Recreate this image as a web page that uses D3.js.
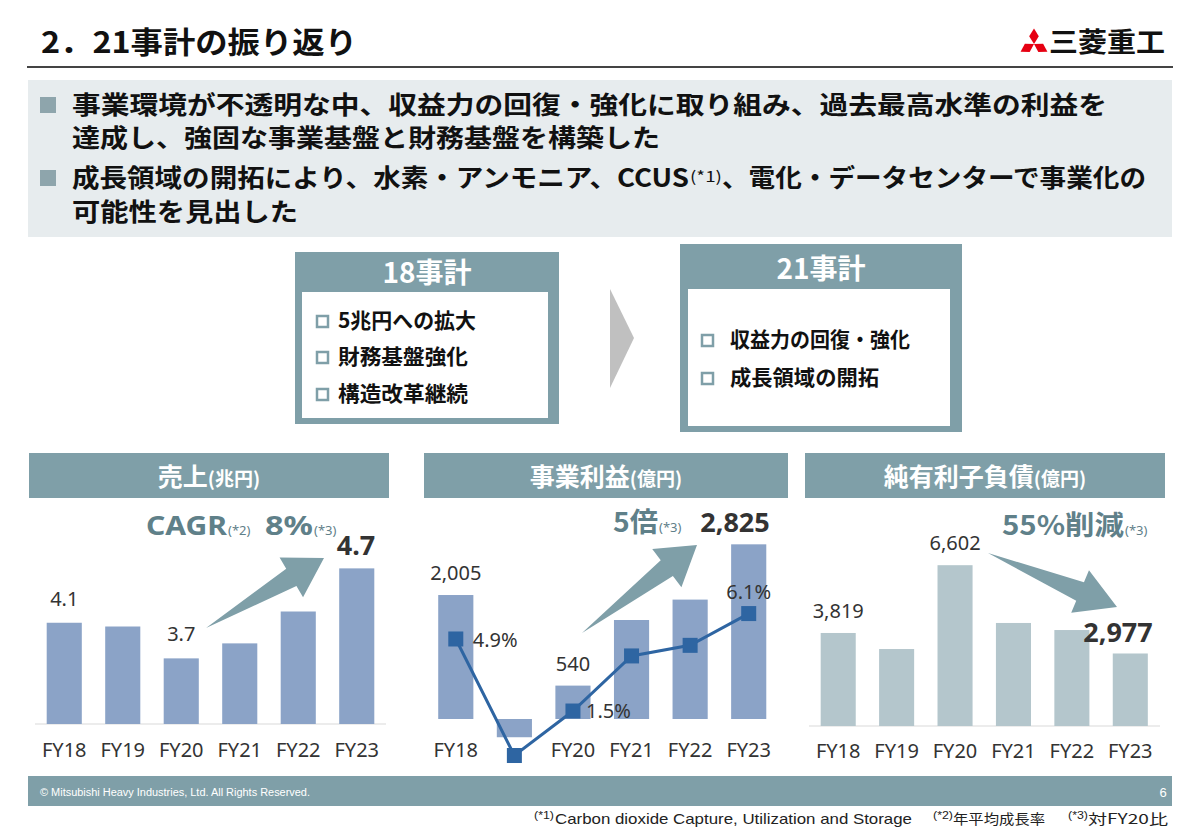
<!DOCTYPE html>
<html><head><meta charset="utf-8">
<script src="https://cdn.jsdelivr.net/npm/d3@7"></script>
<style>html,body{margin:0;padding:0;background:#fff;}svg{display:block;}</style>
</head><body>
<script>
// ---------- data ----------
const years = ["FY18", "FY19", "FY20", "FY21", "FY22", "FY23"];
const salesValues = [4.08, 4.04, 3.70, 3.86, 4.20, 4.66];          // 兆円
const salesLabels = ["4.1", "", "3.7", "", "", ""];
const profitValues = [2005, -295, 540, 1601, 1931, 2825];          // 億円
const profitLabels = ["2,005", "", "540", "", "", ""];
const marginValues = [4.9, -0.6, 1.5, 4.1, 4.6, 6.1];              // %
const marginLabels = ["4.9%", "", "1.5%", "", "", "6.1%"];
const profitAxisLabels = ["FY18", "", "FY20", "FY21", "FY22", "FY23"];
const debtValues = [3819, 3160, 6602, 4230, 3940, 2977];           // 億円
const debtLabels = ["3,819", "", "6,602", "", "", ""];
const bulletLines = [
  "事業環境が不透明な中、収益力の回復・強化に取り組み、過去最高水準の利益を",
  "達成し、強固な事業基盤と財務基盤を構築した",
  "成長領域の開拓により、水素・アンモニア、CCUS",
  "、電化・データセンターで事業化の",
  "可能性を見出した"
];
const plan18Items = ["5兆円への拡大", "財務基盤強化", "構造改革継続"];
const plan21Items = ["収益力の回復・強化", "成長領域の開拓"];

// ---------- styles ----------
const JP = "'Noto Sans CJK JP', 'Noto Sans', sans-serif";
const NUM = "'Noto Sans', 'DejaVu Sans', sans-serif";
const NARROW = "'Liberation Sans Narrow', 'Liberation Sans', sans-serif";
const TEAL = "#7f9fa8";
const TEAL_TEXT = "#5f8089";
const BAR_BLUE = "#8ba3c7";
const BAR_GRAY = "#b4c6cc";
const LINE_BLUE = "#2e65a2";
const DARK = "#333333";

const svg = d3.select("body").append("svg").attr("width", 1200).attr("height", 831);
svg.append("rect").attr("width", 1200).attr("height", 831).attr("fill", "#fff");

function txt(g, x, y, s, o = {}) {
  const t = g.append("text").attr("x", x).attr("y", y).text(s)
    .attr("font-family", o.family || JP)
    .attr("font-size", o.size || 16)
    .attr("font-weight", o.weight || 400)
    .attr("fill", o.fill || DARK)
    .attr("text-anchor", o.anchor || "start");
  if (o.len) t.attr("textLength", o.len).attr("lengthAdjust", "spacingAndGlyphs");
  return t;
}

// ---------- title ----------
txt(svg, 41, 53, "2．21事計の振り返り", {size: 30, weight: 700, fill: "#111", len: 316});
svg.append("line").attr("x1", 27).attr("x2", 1173).attr("y1", 67).attr("y2", 67)
  .attr("stroke", "#444").attr("stroke-width", 2);

// logo
(function () {
  const cx = 1034, cy = 44, L = 15.5;
  const W = L * 0.62;
  const g = svg.append("g").attr("fill", "#e60012");
  [0, 120, 240].forEach(a => {
    g.append("path")
      .attr("d", `M0,0 L${W / 2},${-L / 2} L0,${-L} L${-W / 2},${-L / 2} Z`)
      .attr("transform", `translate(${cx},${cy}) rotate(${a})`);
  });
  txt(svg, 1049, 52, "三菱重工", {size: 27, weight: 700, fill: "#111", len: 116});
})();

// ---------- summary box ----------
svg.append("rect").attr("x", 28).attr("y", 80).attr("width", 1144).attr("height", 157).attr("fill", "#e7ecee");
[[40, 97], [40, 170]].forEach(([x, y]) =>
  svg.append("rect").attr("x", x).attr("y", y).attr("width", 16).attr("height", 16).attr("fill", "#8ea5ac"));
const SUM = {size: 25, weight: 700, fill: "#111"};
txt(svg, 72, 114, bulletLines[0], {...SUM, len: 1035});
txt(svg, 72, 147, bulletLines[1], {...SUM, len: 588});
txt(svg, 72, 187, bulletLines[2], {...SUM, len: 617});
txt(svg, 690, 182, "(*1)", {size: 15, weight: 400, fill: "#111", len: 32});
txt(svg, 722, 187, bulletLines[3], {...SUM, len: 424});
txt(svg, 72, 221, bulletLines[4], {...SUM, len: 226});

// ---------- plan boxes ----------
function planBox(x, y, w, h, headH, title, titleY, items, itemYs, itemLens, cbX, txX, innerPad) {
  svg.append("rect").attr("x", x).attr("y", y).attr("width", w).attr("height", h).attr("fill", TEAL);
  svg.append("rect").attr("x", x + innerPad).attr("y", y + headH).attr("width", w - 2 * innerPad - 4)
    .attr("height", h - headH - 6).attr("fill", "#fff");
  txt(svg, x + w / 2, titleY, title, {size: 28, weight: 700, fill: "#fff", anchor: "middle"});
  items.forEach((s, i) => {
    svg.append("rect").attr("x", cbX).attr("y", itemYs[i] - 12).attr("width", 11).attr("height", 11)
      .attr("fill", "#fff").attr("stroke", TEAL).attr("stroke-width", 2.5);
    txt(svg, txX, itemYs[i], s, {size: 21, weight: 700, fill: "#111", len: itemLens[i]});
  });
}
planBox(295, 252, 264, 172, 40, "18事計", 283, plan18Items, [328, 364, 401], [138, 130, 130], 317, 338, 7);
planBox(680, 244, 282, 188, 45, "21事計", 279, plan21Items, [347, 385], [180, 149], 702, 730, 8);
svg.append("path").attr("d", "M610,289 L634,338 L610,388 Z").attr("fill", "#c0c0c0");

// ---------- helpers ----------
function panelHeader(x0, x1, main, unit) {
  svg.append("rect").attr("x", x0).attr("y", 453).attr("width", x1 - x0).attr("height", 45).attr("fill", TEAL);
  const t = svg.append("text").attr("x", (x0 + x1) / 2).attr("y", 486).attr("text-anchor", "middle")
    .attr("font-family", JP).attr("font-weight", 700).attr("fill", "#fff");
  t.append("tspan").attr("font-size", 25).text(main);
  t.append("tspan").attr("font-size", 19).text(unit);
}
function wedgeArrow(tail, tip, shaftW, headW, headL) {
  const dx = tip[0] - tail[0], dy = tip[1] - tail[1];
  const len = Math.hypot(dx, dy), ux = dx / len, uy = dy / len, nx = -uy, ny = ux;
  const bx = tip[0] - ux * headL, by = tip[1] - uy * headL;
  const pts = [
    [tail[0], tail[1]],
    [bx + nx * shaftW / 2, by + ny * shaftW / 2],
    [bx + nx * headW / 2, by + ny * headW / 2],
    [tip[0], tip[1]],
    [bx - nx * headW / 2, by - ny * headW / 2],
    [bx - nx * shaftW / 2, by - ny * shaftW / 2]
  ];
  svg.append("path").attr("d", d3.line()(pts) + "Z").attr("fill", TEAL);
}
function xLabels(x, labels, y) {
  labels.forEach((s, i) => {
    if (!s) return;
    txt(svg, x(years[i]) + x.bandwidth() / 2, y, s, {size: 20, family: NUM, fill: DARK, anchor: "middle"});
  });
}
function band(r) {
  return d3.scaleBand().domain(years).range(r).paddingInner(0.4).paddingOuter(0.2);
}
function noteText(x, y, big, small, o) {
  const t = svg.append("text").attr("x", x).attr("y", y).attr("font-family", o.family)
    .attr("font-weight", 700).attr("fill", TEAL_TEXT).attr("font-size", 27).text(big);
  if (o.len) t.attr("textLength", o.len).attr("lengthAdjust", "spacingAndGlyphs");
  txt(svg, x + o.len + 1, y, small, {size: 13, family: NUM, fill: TEAL_TEXT});
}

// ---------- panel 1: 売上 ----------
panelHeader(29, 389, "売上", "(兆円)");
const x1 = band([35, 386]);
const y1 = d3.scaleLinear().domain([3.0, 5.0]).range([724, 724 - 187.5]);
svg.append("line").attr("x1", 35).attr("x2", 386).attr("y1", 724).attr("y2", 724).attr("stroke", "#d9d9d9");
svg.append("g").selectAll("rect").data(salesValues).join("rect")
  .attr("x", (d, i) => x1(years[i])).attr("width", x1.bandwidth())
  .attr("y", d => y1(d)).attr("height", d => y1(3.0) - y1(d)).attr("fill", BAR_BLUE);
salesLabels.forEach((s, i) => {
  if (s) txt(svg, x1(years[i]) + x1.bandwidth() / 2, y1(salesValues[i]) - 17, s, {size: 20, family: NUM, anchor: "middle"});
});
xLabels(x1, years, 757);
wedgeArrow([206, 628], [324, 558], 20, 46, 38);
txt(svg, 356, 555, "4.7", {size: 27, weight: 700, family: NUM, anchor: "middle", fill: DARK});
noteText(146, 535, "CAGR", "(*2)", {family: NUM, len: 81});
noteText(265, 535, "8%", "(*3)", {family: NUM, len: 48});

// ---------- panel 2: 事業利益 ----------
panelHeader(424, 788, "事業利益", "(億円)");
const x2 = band([426.5, 778]);
const y2 = d3.scaleLinear().domain([0, 3000]).range([719, 719 - 185.5]);
const y2r = d3.scaleLinear().domain([0, 7]).range([742.8, 742.8 - 148.3]);
svg.append("g").selectAll("rect").data(profitValues).join("rect")
  .attr("x", (d, i) => x2(years[i])).attr("width", x2.bandwidth())
  .attr("y", d => y2(Math.max(0, d))).attr("height", d => Math.abs(y2(d) - y2(0))).attr("fill", BAR_BLUE);
profitLabels.forEach((s, i) => {
  if (s) txt(svg, x2(years[i]) + x2.bandwidth() / 2, y2(profitValues[i]) - 15, s, {size: 20, family: NUM, anchor: "middle"});
});
const cx2 = (d, i) => x2(years[i]) + x2.bandwidth() / 2;
svg.append("path").datum(marginValues)
  .attr("d", d3.line().x(cx2).y(d => y2r(d)))
  .attr("fill", "none").attr("stroke", LINE_BLUE).attr("stroke-width", 3);
svg.append("g").selectAll("rect").data(marginValues).join("rect")
  .attr("x", (d, i) => cx2(d, i) - 7.5).attr("y", d => y2r(d) - 7.5)
  .attr("width", 15).attr("height", 15).attr("fill", LINE_BLUE);
txt(svg, cx2(0, 0) + 17, y2r(marginValues[0]) + 8, marginLabels[0], {size: 20, family: NUM});
txt(svg, cx2(0, 2) + 13, y2r(marginValues[2]) + 7, marginLabels[2], {size: 20, family: NUM});
txt(svg, cx2(0, 5), y2r(marginValues[5]) - 15, marginLabels[5], {size: 20, family: NUM, anchor: "middle"});
xLabels(x2, profitAxisLabels, 757);
wedgeArrow([582, 633], [697, 545], 20, 48, 38);
noteText(613, 532, "5倍", "(*3)", {family: JP, len: 45});
txt(svg, 735, 532, "2,825", {size: 27, weight: 700, family: NUM, anchor: "middle", fill: DARK});

// ---------- panel 3: 純有利子負債 ----------
panelHeader(805, 1165, "純有利子負債", "(億円)");
const x3 = band([809, 1159.5]);
const y3 = d3.scaleLinear().domain([0, 7000]).range([726, 726 - 170.5]);
svg.append("line").attr("x1", 809).attr("x2", 1160).attr("y1", 726).attr("y2", 726).attr("stroke", "#d9d9d9");
svg.append("g").selectAll("rect").data(debtValues).join("rect")
  .attr("x", (d, i) => x3(years[i])).attr("width", x3.bandwidth())
  .attr("y", d => y3(d)).attr("height", d => y3(0) - y3(d)).attr("fill", BAR_GRAY);
debtLabels.forEach((s, i) => {
  if (s) txt(svg, x3(years[i]) + x3.bandwidth() / 2, y3(debtValues[i]) - 15, s, {size: 20, family: NUM, anchor: "middle"});
});
xLabels(x3, years, 758);
wedgeArrow([988, 553], [1117, 607], 20, 46, 40);
txt(svg, 1118, 642, "2,977", {size: 27, weight: 700, family: NUM, anchor: "middle", fill: DARK});
noteText(1002, 535, "55%削減", "(*3)", {family: JP, len: 122});

// ---------- footer ----------
svg.append("rect").attr("x", 28).attr("y", 776).attr("width", 1144).attr("height", 30).attr("fill", TEAL);
txt(svg, 40, 796, "© Mitsubishi Heavy Industries, Ltd.  All Rights Reserved.", {size: 10, family: NARROW, fill: "#fff", len: 270});
txt(svg, 1163, 797, "6", {size: 13, family: NARROW, fill: "#fff", anchor: "middle"});
const FN = {size: 15, family: NARROW, fill: "#222"};
const SUP = {size: 10, family: NARROW, fill: "#222"};
txt(svg, 534, 819, "(*1)", {...SUP, len: 20});
txt(svg, 555, 824, "Carbon dioxide Capture, Utilization and Storage", {...FN, len: 357});
txt(svg, 933, 819, "(*2)", {...SUP, len: 20});
txt(svg, 953, 824, "年平均成長率", {...FN, family: JP, size: 14, len: 92});
txt(svg, 1068, 819, "(*3)", {...SUP, len: 20});
txt(svg, 1088, 824, "対FY20比", {...FN, family: JP, size: 14, len: 80});
</script>
</body></html>
